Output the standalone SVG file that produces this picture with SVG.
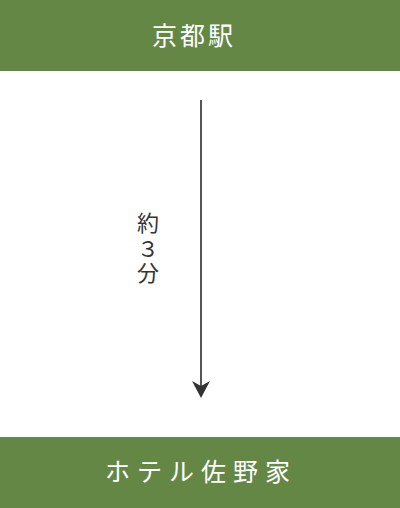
<svg xmlns="http://www.w3.org/2000/svg" width="400" height="508" viewBox="0 0 400 508">
<style>
.box{fill:#658745;}
.t{font-family:"Noto Sans CJK JP","Liberation Sans",sans-serif;fill:#ffffff;font-size:25px;text-anchor:middle;}
.l{font-family:"Noto Sans CJK JP","Liberation Sans",sans-serif;fill:#333333;font-size:22px;text-anchor:middle;}
</style>
<rect x="0" y="0" width="400" height="508" fill="#ffffff"/>
<g id="node-kyoto">
<rect class="box" x="0" y="0" width="400" height="71"/>
<text class="t" x="194" y="45" letter-spacing="3">京都駅</text>
</g>
<g id="node-hotel">
<rect class="box" x="0" y="437" width="400" height="71"/>
<text class="t" x="201" y="481" font-size="24" letter-spacing="7">ホテル佐野家</text>
</g>
<g id="connectors">
<line x1="201" y1="100" x2="201" y2="390" stroke="#555555" stroke-width="2"/>
<path d="M192,381 L201,386 L210,381 L201,398 Z" fill="#333333"/>
<text class="l" x="148" y="231">約</text>
<text class="l" x="148" y="257">３</text>
<text class="l" x="148" y="281">分</text>
</g>
</svg>
